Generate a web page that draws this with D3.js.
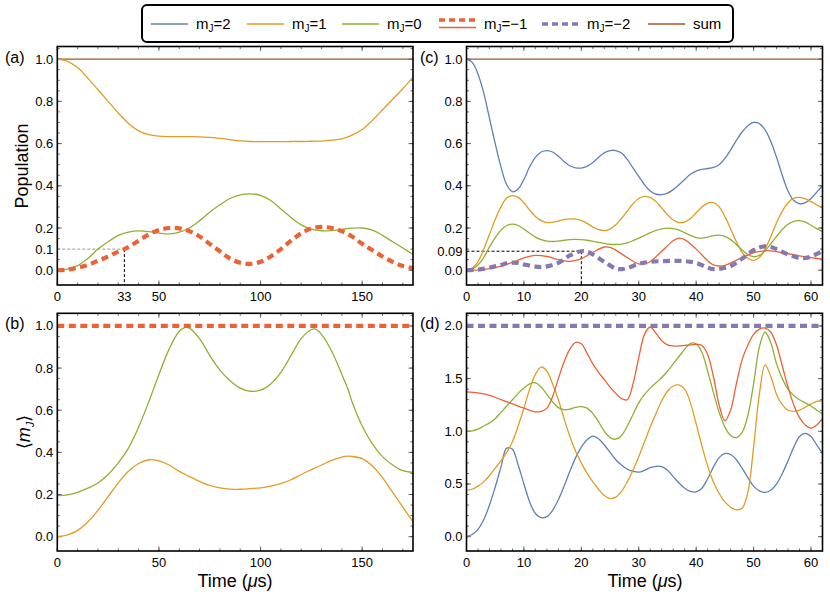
<!DOCTYPE html>
<html><head><meta charset="utf-8">
<script src="https://cdn.jsdelivr.net/npm/d3@7"></script>
<style>body{margin:0;background:#fff}svg{display:block}text{font-family:"Liberation Sans",Arial,sans-serif}</style>
</head><body><svg id="c" width="830" height="601"></svg>
<script>
// ---------- DATA ----------
// Panel (a): populations, J=1 case (time in µs)
const tA = [0,5,10,15,20,25,30,33,35,40,45,50,55,60,65,70,75,80,85,90,95,100,105,110,115,120,125,130,135,140,145,150,155,160,165,170,175];
const aM1 = [1.0,0.99,0.96,0.91,0.855,0.80,0.745,0.715,0.695,0.66,0.642,0.635,0.633,0.633,0.633,0.632,0.629,0.625,0.619,0.613,0.61,0.609,0.609,0.609,0.61,0.61,0.611,0.612,0.616,0.622,0.64,0.667,0.71,0.76,0.81,0.86,0.915];
const aM0 = [0,0.005,0.022,0.055,0.1,0.135,0.165,0.176,0.181,0.186,0.183,0.176,0.172,0.18,0.2,0.235,0.275,0.31,0.34,0.357,0.362,0.355,0.33,0.29,0.25,0.215,0.195,0.187,0.188,0.194,0.199,0.2,0.19,0.165,0.135,0.105,0.075];
const aMm1 = [0,0.003,0.012,0.025,0.045,0.065,0.088,0.1,0.11,0.14,0.17,0.19,0.2,0.198,0.185,0.16,0.125,0.09,0.055,0.035,0.03,0.04,0.065,0.1,0.14,0.175,0.198,0.205,0.2,0.185,0.16,0.125,0.095,0.065,0.04,0.02,0.01];
const tSumA = [0,175];
const aSum = [1,1];
// Panel (b): <m_J>
const tB = [0,5,10,15,20,25,30,35,40,45,50,55,60,63,65,70,75,80,85,90,95,100,105,110,115,120,125,127,130,135,140,143,145,150,155,160,165,170,175];
const bM0 = [0.195,0.198,0.21,0.23,0.255,0.295,0.35,0.42,0.52,0.64,0.77,0.89,0.975,0.993,0.99,0.94,0.86,0.79,0.74,0.705,0.69,0.695,0.725,0.78,0.86,0.94,0.983,0.985,0.96,0.88,0.77,0.70,0.64,0.525,0.44,0.38,0.34,0.313,0.305];
const bM1 = [0,0.008,0.03,0.07,0.125,0.19,0.255,0.31,0.347,0.365,0.36,0.34,0.31,0.295,0.285,0.262,0.243,0.232,0.226,0.225,0.228,0.232,0.24,0.252,0.27,0.295,0.318,0.327,0.34,0.362,0.378,0.382,0.381,0.37,0.335,0.28,0.21,0.14,0.07];
const tLineB = [0,175];
const bMm1 = [1,1];
// Panel (c): populations, J=2 case
const tC = [0,1,2,3,4,5,6,7,8,9,10,11,12,13,14,15,16,17,18,19,20,21,22,23,24,25,26,27,28,29,30,31,32,33,34,35,36,37,38,39,40,41,42,43,44,45,46,47,48,49,50,51,52,53,54,55,56,57,58,59,60,61,62];
const cM2 = [1.0,0.985,0.93,0.84,0.72,0.6,0.49,0.405,0.372,0.385,0.43,0.49,0.535,0.56,0.567,0.56,0.54,0.515,0.495,0.485,0.484,0.492,0.51,0.535,0.556,0.567,0.567,0.555,0.525,0.485,0.445,0.405,0.375,0.36,0.358,0.365,0.382,0.405,0.43,0.455,0.47,0.478,0.482,0.487,0.5,0.53,0.57,0.615,0.655,0.685,0.7,0.695,0.665,0.61,0.535,0.45,0.375,0.33,0.315,0.32,0.34,0.37,0.4];
const cM1 = [0,0.01,0.04,0.1,0.17,0.24,0.3,0.342,0.353,0.345,0.32,0.285,0.255,0.235,0.226,0.227,0.233,0.24,0.243,0.242,0.235,0.222,0.205,0.192,0.188,0.195,0.215,0.245,0.28,0.315,0.34,0.35,0.345,0.325,0.295,0.263,0.238,0.226,0.228,0.245,0.272,0.3,0.318,0.32,0.3,0.255,0.195,0.135,0.085,0.057,0.047,0.06,0.1,0.16,0.225,0.28,0.32,0.342,0.345,0.338,0.325,0.31,0.295];
const cM0 = [0,0.006,0.025,0.06,0.11,0.155,0.19,0.212,0.218,0.212,0.195,0.175,0.157,0.145,0.138,0.136,0.138,0.142,0.145,0.146,0.145,0.142,0.137,0.132,0.127,0.123,0.122,0.124,0.13,0.14,0.152,0.165,0.178,0.189,0.196,0.199,0.197,0.19,0.178,0.165,0.155,0.152,0.157,0.164,0.166,0.16,0.145,0.122,0.096,0.075,0.064,0.07,0.092,0.125,0.16,0.193,0.218,0.232,0.235,0.228,0.213,0.197,0.182];
const tCm1 = [0,2,4,6,8,10,12,14,16,18,20,22,24,25,26,28,30,31,32,34,36,37,38,40,42,43,44,45,46,48,50,52,53,54,56,58,60,62];
const cMm1 = [0,0.002,0.008,0.02,0.037,0.058,0.07,0.065,0.05,0.042,0.055,0.085,0.11,0.108,0.095,0.06,0.03,0.03,0.04,0.09,0.14,0.152,0.145,0.1,0.045,0.025,0.02,0.023,0.035,0.06,0.083,0.092,0.092,0.088,0.078,0.068,0.06,0.052];
const tCm2 = [0,2,4,6,7,8,9,10,12,13,14,16,18,20,21,22,24,26,27,28,30,32,34,36,38,40,42,43,44,46,48,50,51,52,53,54,56,58,59,60,62];
const cMm2 = [0,0.003,0.012,0.025,0.033,0.036,0.034,0.027,0.017,0.015,0.018,0.035,0.07,0.09,0.088,0.075,0.04,0.008,0.005,0.01,0.03,0.04,0.043,0.044,0.043,0.035,0.012,0.005,0.006,0.02,0.055,0.095,0.108,0.113,0.11,0.1,0.075,0.058,0.058,0.065,0.09];
const tSumC = [0,62];
const cSum = [1,1];
// Panel (d): <m_J>
const tD = tC;
const dM2 = [0,0.02,0.07,0.16,0.3,0.47,0.66,0.84,0.83,0.68,0.5,0.33,0.22,0.18,0.19,0.25,0.35,0.48,0.62,0.75,0.85,0.92,0.955,0.93,0.87,0.8,0.73,0.68,0.64,0.62,0.612,0.63,0.655,0.668,0.665,0.63,0.57,0.51,0.46,0.43,0.425,0.46,0.55,0.66,0.75,0.79,0.78,0.73,0.65,0.56,0.48,0.435,0.42,0.44,0.5,0.6,0.72,0.85,0.95,0.98,0.95,0.87,0.79];
const dM1 = [0.44,0.45,0.48,0.52,0.58,0.65,0.72,0.8,0.9,1.05,1.22,1.4,1.54,1.61,1.57,1.45,1.3,1.12,0.95,0.81,0.7,0.6,0.52,0.45,0.39,0.362,0.375,0.43,0.52,0.63,0.76,0.9,1.04,1.17,1.29,1.38,1.43,1.44,1.4,1.27,1.07,0.86,0.67,0.52,0.41,0.33,0.28,0.255,0.27,0.42,0.85,1.35,1.63,1.52,1.35,1.25,1.2,1.19,1.2,1.23,1.26,1.285,1.29];
const dM0 = [1.0,1.005,1.02,1.05,1.08,1.12,1.18,1.24,1.3,1.36,1.41,1.45,1.46,1.42,1.35,1.28,1.225,1.205,1.21,1.228,1.235,1.22,1.17,1.09,1.0,0.94,0.925,0.96,1.05,1.16,1.27,1.35,1.41,1.46,1.51,1.57,1.64,1.71,1.78,1.835,1.83,1.75,1.57,1.37,1.18,1.04,0.96,0.94,0.99,1.15,1.45,1.8,1.94,1.84,1.64,1.5,1.4,1.34,1.3,1.27,1.24,1.2,1.165];
const tDm1 = [0,2,4,6,8,10,12,13,14,15,16,17,18,19,20,21,22,23,24,25,26,27,28,29,30,31,32,33,34,35,36,37,38,39,40,41,42,43,44,45,46,47,48,49,50,51,52,53,54,55,56,57,58,59,60,61,62];
const dMm1 = [1.375,1.365,1.34,1.3,1.26,1.22,1.185,1.19,1.22,1.33,1.5,1.66,1.78,1.845,1.83,1.74,1.64,1.56,1.49,1.42,1.36,1.31,1.3,1.45,1.7,1.92,1.99,1.93,1.86,1.82,1.81,1.81,1.815,1.82,1.825,1.815,1.73,1.52,1.25,1.1,1.2,1.45,1.68,1.82,1.92,1.97,1.98,1.94,1.82,1.62,1.42,1.25,1.13,1.06,1.03,1.06,1.12];
const tLineD = [0,62];
const dMm2 = [2,2];

const legendLabels = ["2","1","0","\u22121","\u22122","sum"];
const yTicksA = [0,0.1,0.2,0.4,0.6,0.8,1.0];
const yTicksC = [0,0.09,0.2,0.4,0.6,0.8,1.0];
const xTicksA = [0,33,50,100,150];
const xTicksC = [0,10,20,30,40,50,60];
const yTicksB = [0,0.2,0.4,0.6,0.8,1.0];
const yTicksD = [0,0.5,1.0,1.5,2.0];
const xTicksB = [0,50,100,150];
const markA = [33,0.1];
const markC = [20,0.09];

// ---------- STYLE ----------
const COL = {m2:"#5E81B5", m1:"#E19C24", m0:"#8FB032", mm1:"#EB6235", mm2:"#8778B3", sum:"#A0582A"};
const svg = d3.select("#c");
const thin = 1.3;

function panel(o){
  const x = d3.scaleLinear().domain(o.xd).range([o.x0,o.x1]);
  const y = d3.scaleLinear().domain(o.yd).range([o.y1,o.y0]);
  const g = svg.append("g");
  const clipId = "clip"+o.id;
  svg.append("clipPath").attr("id",clipId).append("rect")
    .attr("x",o.x0).attr("y",o.y0).attr("width",o.x1-o.x0).attr("height",o.y1-o.y0);
  const tk = g.append("g").attr("stroke","#444").attr("stroke-width",0.8);
  o.xMinor.forEach(v=>{const px=x(v);
    tk.append("line").attr("x1",px).attr("x2",px).attr("y1",o.y1).attr("y2",o.y1-2.5);
    tk.append("line").attr("x1",px).attr("x2",px).attr("y1",o.y0).attr("y2",o.y0+2.5);});
  o.xMajor.forEach(v=>{const px=x(v);
    tk.append("line").attr("x1",px).attr("x2",px).attr("y1",o.y1).attr("y2",o.y1-4.5);
    tk.append("line").attr("x1",px).attr("x2",px).attr("y1",o.y0).attr("y2",o.y0+4.5);});
  o.yMinor.forEach(v=>{const py=y(v);
    tk.append("line").attr("y1",py).attr("y2",py).attr("x1",o.x0).attr("x2",o.x0+2.5);
    tk.append("line").attr("y1",py).attr("y2",py).attr("x1",o.x1).attr("x2",o.x1-2.5);});
  o.yMajor.forEach(v=>{const py=y(v);
    tk.append("line").attr("y1",py).attr("y2",py).attr("x1",o.x0).attr("x2",o.x0+4.5);
    tk.append("line").attr("y1",py).attr("y2",py).attr("x1",o.x1).attr("x2",o.x1-4.5);});
  if(o.mark){
    const [mx,my]=o.mark;
    g.append("line").attr("x1",x(0)).attr("x2",x(mx)).attr("y1",y(my)).attr("y2",y(my))
      .attr("stroke",o.markH).attr("stroke-width",1).attr("stroke-dasharray","3,2");
    g.append("line").attr("x1",x(mx)).attr("x2",x(mx)).attr("y1",y(my)).attr("y2",o.y1)
      .attr("stroke","#000").attr("stroke-width",1).attr("stroke-dasharray","3,2");
  }
  const line = d3.line().x(d=>x(d[0])).y(d=>y(d[1])).curve(d3.curveCatmullRom.alpha(0.5));
  const lg = g.append("g").attr("clip-path",`url(#${clipId})`);
  o.series.forEach(s=>{
    lg.append("path").datum(s.t.map((t,i)=>[t,s.v[i]])).attr("d",line)
      .attr("fill","none").attr("stroke",s.c).attr("stroke-width",s.w||thin)
      .attr("stroke-dasharray",s.dash||null).attr("stroke-linejoin","round");
  });
  g.append("rect").attr("x",o.x0).attr("y",o.y0).attr("width",o.x1-o.x0).attr("height",o.y1-o.y0)
    .attr("fill","none").attr("stroke","#000").attr("stroke-width",1.6);
  o.yLab.forEach(v=>{
    g.append("text").attr("x",o.x0-4).attr("y",y(v)+4.5).attr("text-anchor","end")
      .attr("font-size",13).text(o.yFmt(v));
  });
  o.xLab.forEach(v=>{
    g.append("text").attr("x",x(v)).attr("y",o.y1+16).attr("text-anchor","middle")
      .attr("font-size",13).text(v);
  });
  g.append("text").attr("x",o.lx).attr("y",o.y0+16).attr("font-family","Liberation Serif, Times New Roman, serif")
    .attr("font-size",16).text(o.label);
  return {x,y,g};
}
const fmt1 = v => v===0.09 ? "0.09" : d3.format(".1f")(v);
const range = (a,b,s)=>d3.range(a,b+1e-9,s);

panel({id:"a",x0:57.3,x1:413,y0:46.5,y1:285,xd:[0,175],yd:[-0.07,1.06],
  xMajor:[0,50,100,150], xMinor:range(0,175,10), yMajor:[0,0.2,0.4,0.6,0.8,1.0], yMinor:range(0,1.05,0.05),
  yLab:yTicksA, xLab:xTicksA, yFmt:fmt1, label:"(a)", lx:5, mark:markA, markH:"#999",
  series:[
    {t:tSumA,v:aSum,c:COL.sum,w:1.2},
    {t:tA,v:aM1,c:COL.m1},
    {t:tA,v:aM0,c:COL.m0},
    {t:tA,v:aMm1,c:COL.mm1,w:4.2,dash:"7,4.5"}
  ]});
panel({id:"b",x0:57.3,x1:413,y0:313.3,y1:551,xd:[0,175],yd:[-0.068,1.06],
  xMajor:[0,50,100,150], xMinor:range(0,175,10), yMajor:yTicksB, yMinor:range(0,1.05,0.05),
  yLab:yTicksB, xLab:xTicksB, yFmt:fmt1, label:"(b)", lx:5,
  series:[
    {t:tB,v:bM1,c:COL.m1},
    {t:tB,v:bM0,c:COL.m0},
    {t:tLineB,v:bMm1,c:COL.mm1,w:4.2,dash:"7,4.5"}
  ]});
panel({id:"c",x0:466.5,x1:822.5,y0:46.5,y1:285,xd:[0,62],yd:[-0.07,1.06],
  xMajor:xTicksC, xMinor:range(0,62,2), yMajor:[0,0.2,0.4,0.6,0.8,1.0], yMinor:range(0,1.05,0.05),
  yLab:yTicksC, xLab:xTicksC, yFmt:fmt1, label:"(c)", lx:420, mark:markC, markH:"#000",
  series:[
    {t:tSumC,v:cSum,c:COL.sum,w:1.2},
    {t:tC,v:cM2,c:COL.m2},
    {t:tC,v:cM1,c:COL.m1},
    {t:tC,v:cM0,c:COL.m0},
    {t:tCm1,v:cMm1,c:COL.mm1},
    {t:tCm2,v:cMm2,c:COL.mm2,w:4.2,dash:"7,4.5"}
  ]});
panel({id:"d",x0:466.5,x1:822.5,y0:313.3,y1:551,xd:[0,62],yd:[-0.136,2.12],
  xMajor:xTicksC, xMinor:range(0,62,2), yMajor:yTicksD, yMinor:range(0,2.1,0.1),
  yLab:yTicksD, xLab:xTicksC, yFmt:fmt1, label:"(d)", lx:420,
  series:[
    {t:tD,v:dM2,c:COL.m2},
    {t:tD,v:dM1,c:COL.m1},
    {t:tD,v:dM0,c:COL.m0},
    {t:tDm1,v:dMm1,c:COL.mm1},
    {t:tLineD,v:dMm2,c:COL.mm2,w:4.2,dash:"7,4.5"}
  ]});

svg.append("text").attr("transform","translate(28,166) rotate(-90)").attr("text-anchor","middle")
  .attr("font-size",18).text("Population");
const ml = svg.append("text").attr("transform","translate(30,432) rotate(-90)").attr("text-anchor","middle").attr("font-size",18);
ml.append("tspan").text("\u27E8");
ml.append("tspan").attr("font-style","italic").text("m");
ml.append("tspan").attr("font-style","italic").attr("font-size",11).attr("dy",4).text("J");
ml.append("tspan").attr("dy",-4).text("\u27E9");
[235,645].forEach(cx=>{
  const t = svg.append("text").attr("x",cx).attr("y",587).attr("text-anchor","middle").attr("font-size",18);
  t.append("tspan").text("Time (");
  t.append("tspan").attr("font-style","italic").text("\u03BC");
  t.append("tspan").text("s)");
});

const lgd = svg.append("g");
lgd.append("rect").attr("x",142).attr("y",5).attr("width",591).attr("height",37).attr("rx",5)
  .attr("fill","#fff").attr("stroke","#000").attr("stroke-width",2);
const lx0 = [151,247,342,439,542,648];
const lcol = [COL.m2,COL.m1,COL.m0,COL.mm1,COL.mm2,COL.sum];
legendLabels.forEach((lab,i)=>{
  const x0 = lx0[i], x1 = x0+37;
  if(i===3){
    lgd.append("line").attr("x1",x0).attr("x2",x1).attr("y1",20).attr("y2",20).attr("stroke",lcol[i]).attr("stroke-width",3.5).attr("stroke-dasharray","6,4");
    lgd.append("line").attr("x1",x0).attr("x2",x1).attr("y1",27.5).attr("y2",27.5).attr("stroke",lcol[i]).attr("stroke-width",1.3);
  } else if(i===4){
    lgd.append("line").attr("x1",x0).attr("x2",x1).attr("y1",24).attr("y2",24).attr("stroke",lcol[i]).attr("stroke-width",3.5).attr("stroke-dasharray","6,4");
  } else {
    lgd.append("line").attr("x1",x0).attr("x2",x1).attr("y1",24).attr("y2",24).attr("stroke",lcol[i]).attr("stroke-width",1.3);
  }
  const t = lgd.append("text").attr("x",x1+8).attr("y",29).attr("font-size",15);
  if(lab==="sum"){ t.text("sum"); }
  else {
    t.append("tspan").text("m");
    t.append("tspan").attr("font-size",10).attr("dy",3).text("J");
    t.append("tspan").attr("dy",-3).text("="+lab);
  }
});
</script></body></html>
